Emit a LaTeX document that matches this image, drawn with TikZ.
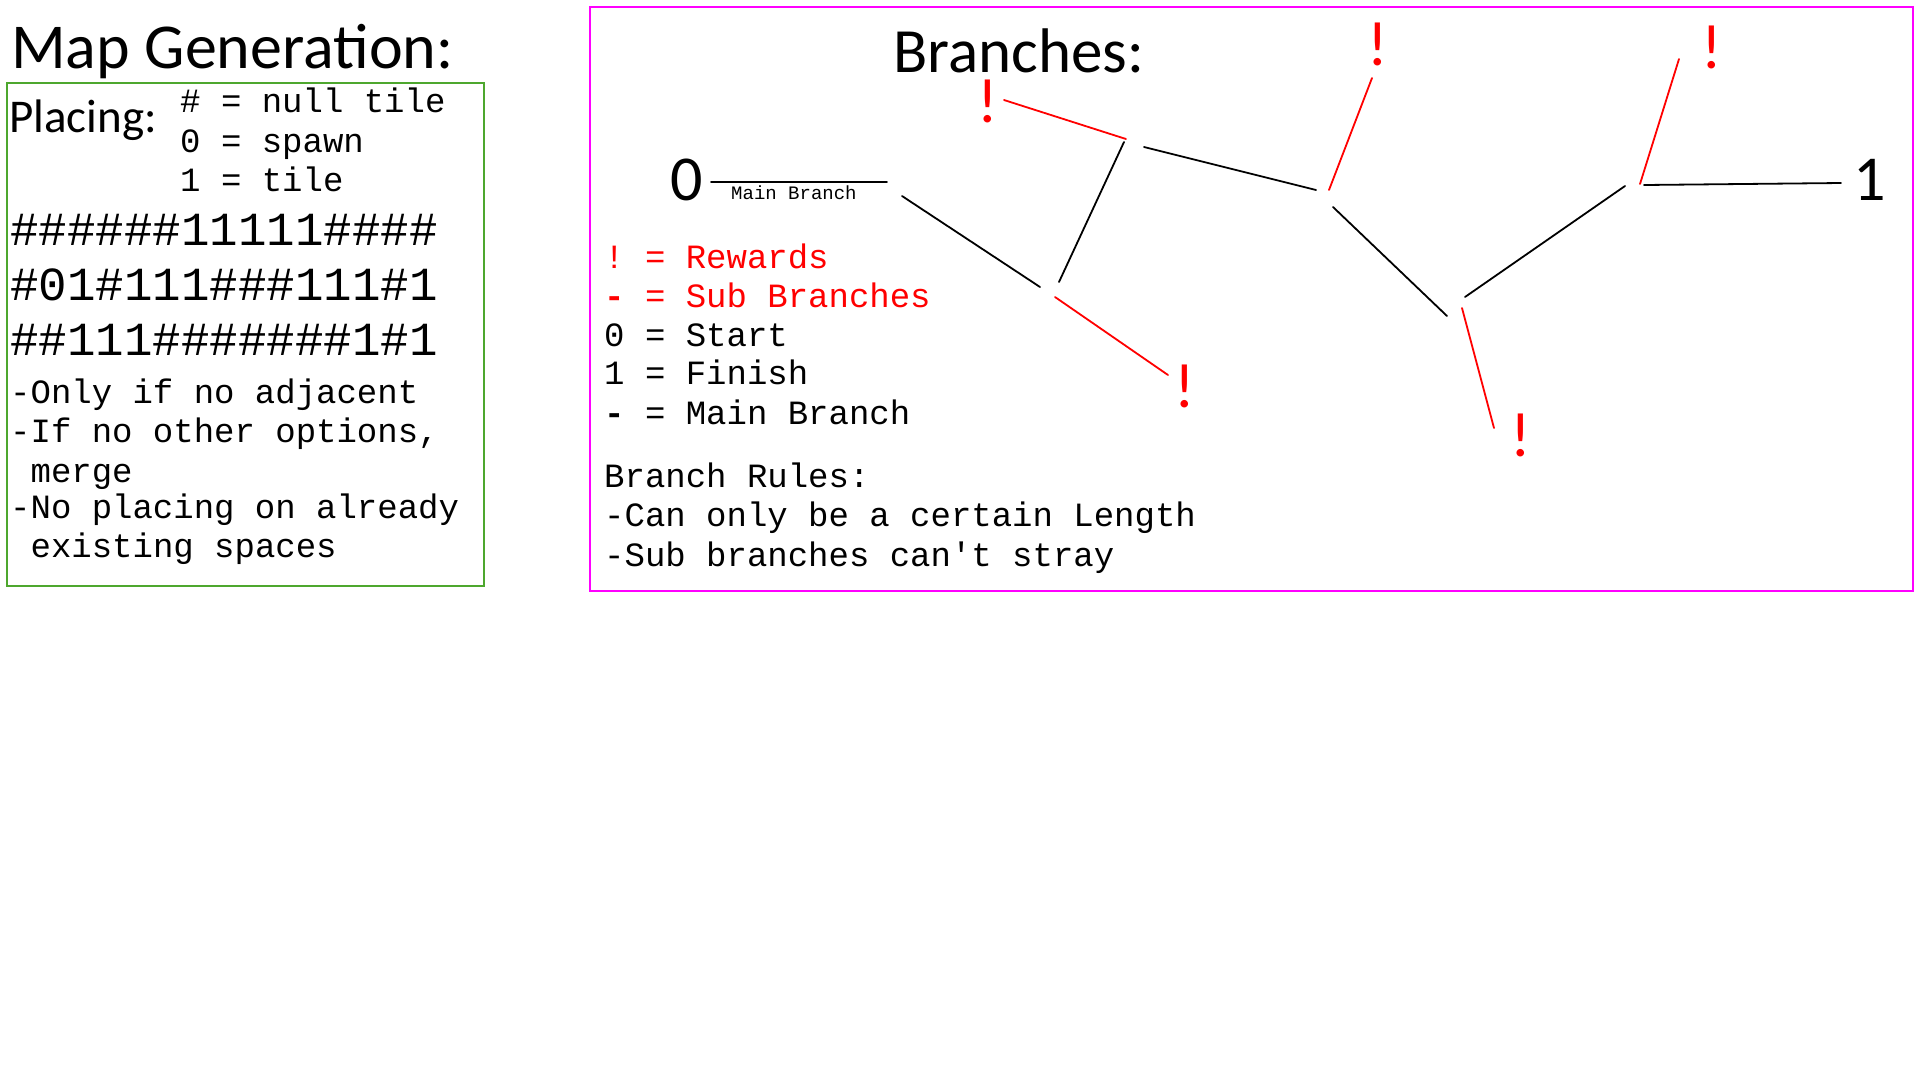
\documentclass[tikz,border=0pt]{standalone}
\usepackage{fontspec}
\setmonofont{Liberation Mono}
\newfontfamily\calibri{Carlito}
\definecolor{mgGreen}{HTML}{4EA72E}
\definecolor{mgPink}{HTML}{FF00FF}
\definecolor{mgRed}{HTML}{FF0000}
\newcommand{\fsz}[1]{\fontsize{#1}{#1}\selectfont}
\usetikzlibrary{positioning}

\begin{document}
\begin{tikzpicture}[x=1pt, y=-1pt, inner sep=0pt,
    mono/.style={anchor=base west, font=\ttfamily\fsz{34}},
    tilerow/.style={anchor=base west, font=\ttfamily\fsz{47.5}},
    reward/.style={anchor=base, font=\calibri\fsz{63}, text=mgRed},
    mainline/.style={line width=1.8pt, line cap=round},
    subline/.style={line width=1.8pt, mgRed, line cap=round}]
  \useasboundingbox (0,0) rectangle (1920,1080);

  % map generation
  \node[anchor=base west, font=\calibri\fsz{64}] (mapTitle) at (11,68) {Map Generation:};
  \draw[mgGreen, line width=2.5pt] (7,83) rectangle (484,586);
  \node[anchor=base west, font=\calibri\fsz{47}] (placing) at (9,132) {Placing:};
  \node[mono] (keyNull) at (180,112) {\# = null tile};
  \node[mono] (keySpawn) at (180,152) {0 = spawn};
  \node[mono] (keyTile) at (180,191) {1 = tile};

  \node[tilerow] (rowA) at (10,245) {\#\#\#\#\#\#11111\#\#\#\#};
  \node[tilerow] (rowB) at (10,300) {\#01\#111\#\#\#111\#1};
  \node[tilerow] (rowC) at (10,355) {\#\#111\#\#\#\#\#\#\#1\#1};

  \node[mono] (ruleA) at (10,403) {-Only if no adjacent};
  \node[mono] (ruleB) at (10,442) {-If no other options,};
  \node[mono] (ruleC) at (10,482) {\ merge};
  \node[mono] (ruleD) at (10,518) {-No placing on already};
  \node[mono] (ruleE) at (10,557) {\ existing spaces};

  % branches
  \draw[mgPink, line width=2pt] (590,7) rectangle (1913,591);
  \node[anchor=base west, font=\calibri\fsz{63}] (brTitle) at (893,72) {Branches:};

  \node[font=\calibri\fsz{64}] (start) at (687,180) {0};
  \node[font=\calibri\fsz{64}] (finish) at (1870,180) {1};
  \node[anchor=base west, font=\ttfamily\fsz{19}] (mainLbl) at (731,199) {Main Branch};

  \coordinate (m0a) at (711,182);  \coordinate (m0b) at (887,182);
  \coordinate (m1a) at (902,196);  \coordinate (m1b) at (1040,287);
  \coordinate (m2a) at (1059,282); \coordinate (m2b) at (1124,142);
  \coordinate (m3a) at (1144,147); \coordinate (m3b) at (1316,190);
  \coordinate (m4a) at (1333,207); \coordinate (m4b) at (1447,316);
  \coordinate (m5a) at (1465,297); \coordinate (m5b) at (1625,186);
  \coordinate (m6a) at (1644,185); \coordinate (m6b) at (1841,183);
  \draw[mainline] (m0a) -- (m0b);
  \draw[mainline] (m1a) -- (m1b);
  \draw[mainline] (m2a) -- (m2b);
  \draw[mainline] (m3a) -- (m3b);
  \draw[mainline] (m4a) -- (m4b);
  \draw[mainline] (m5a) -- (m5b);
  \draw[mainline] (m6a) -- (m6b);

  \node[reward] (rwA) at (988,122) {!};
  \node[reward] (rwB) at (1185,407) {!};
  \node[reward] (rwC) at (1378,65) {!};
  \node[reward] (rwD) at (1521,456) {!};
  \node[reward] (rwE) at (1712,68) {!};

  \coordinate (s1a) at (1126,139); \coordinate (s1b) at (1004,100);
  \coordinate (s2a) at (1055,297); \coordinate (s2b) at (1168,375);
  \coordinate (s3a) at (1329,190); \coordinate (s3b) at (1372,78);
  \coordinate (s4a) at (1462,308); \coordinate (s4b) at (1494,428);
  \coordinate (s5a) at (1640,184); \coordinate (s5b) at (1679,59);
  \draw[subline] (s1a) -- (s1b);
  \draw[subline] (s2a) -- (s2b);
  \draw[subline] (s3a) -- (s3b);
  \draw[subline] (s4a) -- (s4b);
  \draw[subline] (s5a) -- (s5b);

  \node[mono, text=mgRed] (keyReward) at (604,268) {! = Rewards};
  \node[mono, text=mgRed] (keySub) at (604,307) {{\bfseries -} = Sub Branches};
  \node[mono] (keyStart) at (604,346) {0 = Start};
  \node[mono] (keyFinish) at (604,384) {1 = Finish};
  \node[mono] (keyMain) at (604,424) {{\bfseries -} = Main Branch};

  \node[mono] (brRules) at (604,487) {Branch Rules:};
  \node[mono] (brRuleA) at (604,526) {-Can only be a certain Length};
  \node[mono] (brRuleB) at (604,566) {-Sub branches can't stray};
\end{tikzpicture}
\end{document}
